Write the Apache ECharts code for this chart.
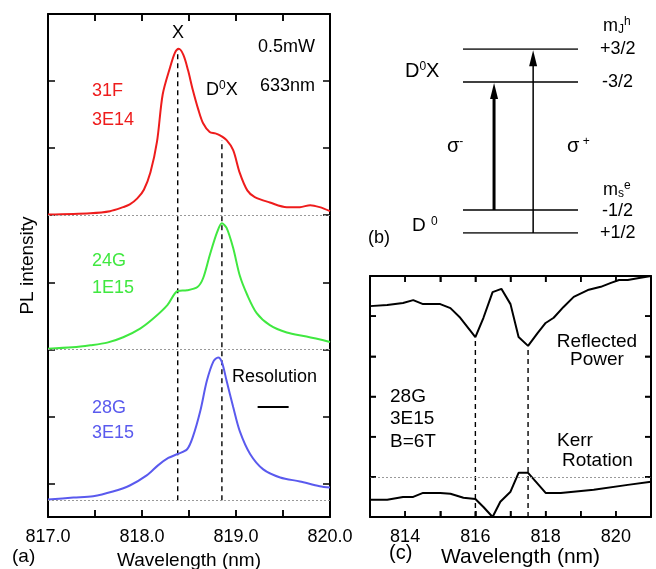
<!DOCTYPE html>
<html>
<head>
<meta charset="utf-8">
<script src="https://cdn.jsdelivr.net/npm/echarts@6/dist/echarts.min.js"></script>
<style>
  html, body { margin: 0; padding: 0; background: #fff; }
  #fig { width: 656px; height: 569px; }
</style>
</head>
<body>
<div id="fig"></div>
<script>
const FONT = '"Liberation Sans", Arial, Helvetica, sans-serif';

// (a) PL spectra: wavelength (nm) and intensity above each trace's baseline
const wl31F = [817.00, 817.45, 817.66, 817.80, 817.87, 817.95, 818.02, 818.09, 818.16, 818.22, 818.30, 818.35, 818.39, 818.44, 818.49, 818.54, 818.60, 818.65, 818.72, 818.78, 818.83, 818.90, 818.97, 819.04, 819.12, 819.20, 819.36, 819.54, 819.68, 819.79, 819.89, 820.00];
const pl31F = [0.01, 0.03, 0.06, 0.12, 0.16, 0.25, 0.38, 0.64, 1.10, 1.80, 2.21, 2.42, 2.48, 2.39, 2.16, 1.87, 1.57, 1.37, 1.24, 1.22, 1.19, 1.12, 0.97, 0.63, 0.37, 0.27, 0.19, 0.12, 0.12, 0.15, 0.12, 0.06];

const wl24G = [817.00, 817.26, 817.45, 817.63, 817.80, 817.98, 818.12, 818.27, 818.38, 818.48, 818.59, 818.65, 818.72, 818.80, 818.85, 818.90, 818.97, 819.04, 819.12, 819.22, 819.36, 819.54, 819.75, 820.00];
const pl24G = [0.01, 0.03, 0.06, 0.10, 0.18, 0.31, 0.46, 0.66, 0.87, 0.88, 0.93, 1.06, 1.40, 1.75, 1.88, 1.81, 1.51, 1.10, 0.81, 0.54, 0.36, 0.25, 0.19, 0.11];

const wl28G = [817.00, 817.27, 817.48, 817.69, 817.87, 818.05, 818.17, 818.28, 818.38, 818.48, 818.54, 818.62, 818.69, 818.76, 818.81, 818.85, 818.90, 818.97, 819.04, 819.15, 819.29, 819.47, 819.68, 819.89, 820.00];
const pl28G = [0.01, 0.04, 0.06, 0.13, 0.22, 0.37, 0.52, 0.63, 0.69, 0.76, 0.94, 1.33, 1.78, 2.07, 2.13, 2.06, 1.78, 1.39, 1.03, 0.69, 0.46, 0.34, 0.28, 0.21, 0.19];

const baselines = { red: 4, green: 2, blue: -0.25 };
const peakX = 818.38, peakD0X = 818.85;
const resolution = [819.23, 819.56];

// ticks and tick labels
const ticksA_x = [817.5, 818, 818.5, 819, 819.5];
const labelsA_x = [817, 818, 819, 820];
const ticksA_y = [0, 1, 2, 3, 4, 5, 6];
const ticksC_x = [814, 815, 816, 817, 818, 819, 820];
const labelsC_x = [814, 816, 818, 820];
const ticksC_y = [0, 1, 2, 3, 4];

// (c) reflected power and Kerr rotation at B = 6 T
const wlRefl = [813.0, 813.49, 813.94, 814.23, 814.51, 815.0, 815.29, 815.57, 816.0, 816.23, 816.49, 816.74, 817.0, 817.23, 817.5, 817.77, 818.0, 818.23, 818.51, 818.8, 819.2, 819.57, 819.86, 820.09, 820.34, 820.66, 821.0];
const refl = [4.25, 4.28, 4.33, 4.40, 4.30, 4.30, 4.20, 3.96, 3.48, 3.96, 4.60, 4.68, 4.30, 3.48, 3.26, 3.58, 3.83, 3.96, 4.23, 4.48, 4.65, 4.73, 4.83, 4.90, 4.90, 4.95, 5.0];
const wlKerr = [813.0, 813.49, 813.94, 814.23, 814.51, 815.0, 815.29, 815.66, 816.0, 816.23, 816.49, 816.71, 817.0, 817.23, 817.5, 817.77, 818.0, 818.43, 819.37, 820.34, 821.0];
const kerr = [-0.57, -0.57, -0.50, -0.50, -0.40, -0.40, -0.42, -0.52, -0.55, -0.75, -1.0, -0.62, -0.37, 0.10, 0.10, -0.17, -0.40, -0.40, -0.32, -0.20, -0.12];
const dipsC = [[816.0, 3.48], [817.5, 3.26]];

// (b) level scheme: relative energies, transitions
const levelE = [0, 1, 6.57, 8];
const transitions = [
  { name: 'sigma-', x: 0.27, from: 1, to: 6.57, width: 3 },
  { name: 'sigma+', x: 0.61, from: 0, to: 8, width: 1.5 }
];

const zip = (xs, ys, off) => xs.map((x, i) => [x, ys[i] + (off || 0)]);

const frame = { show: true, onZero: false, lineStyle: { color: '#000', width: 2 } };
const noSplit = { show: false };

function dotted(y) {
  return { silent: true, symbol: 'none', label: { show: false },
    lineStyle: { color: '#999', type: [2, 2], width: 1 }, data: [{ yAxis: y }] };
}
function dashed(name, xi, yi, x, y0, y1) {
  return { name, type: 'line', xAxisIndex: xi, yAxisIndex: yi, symbol: 'none', z: 1,
    data: [[x, y0], [x, y1]], lineStyle: { color: '#000', width: 1.4, type: [5, 4] } };
}
function pl(name, xs, ys, base, color) {
  return { name, type: 'line', xAxisIndex: 0, yAxisIndex: 0, symbol: 'none', smooth: 0.3,
    data: zip(xs, ys, base), lineStyle: { color, width: 2 }, markLine: dotted(base), z: 3 };
}
// inward ticks on both opposite frame edges, placed through the axis scale
function frameTicks(name, xi, yi, dir, vals, ref, len) {
  return { name, type: 'custom', xAxisIndex: xi, yAxisIndex: yi, silent: true, z: 5,
    data: vals.map(v => dir === 'x' ? [v, ref] : [ref, v]),
    renderItem: (params, api) => {
      const cs = params.coordSys;
      const p = api.coord([api.value(0), api.value(1)]);
      const segs = dir === 'x'
        ? [[p[0], cs.y, p[0], cs.y + len], [p[0], cs.y + cs.height, p[0], cs.y + cs.height - len]]
        : [[cs.x, p[1], cs.x + len, p[1]], [cs.x + cs.width, p[1], cs.x + cs.width - len, p[1]]];
      return { type: 'group', children: segs.map(s => ({ type: 'line',
        shape: { x1: s[0], y1: s[1], x2: s[2], y2: s[3] }, style: { stroke: '#000', lineWidth: 1.5 } })) };
    } };
}

function txt(x, y, text, o) {
  o = o || {};
  return { type: 'text', x, y, z: 100, style: {
    text, fill: o.color || '#000', font: (o.size || 18) + 'px ' + FONT,
    align: o.align || 'left', verticalAlign: 'middle', rich: o.rich } };
}
const sup = (size) => ({
  b: { fontSize: size || 18, fontFamily: FONT, color: '#000' },
  s: { fontSize: 12, fontFamily: FONT, color: '#000', padding: [0, 0, 9, 0] },
  d: { fontSize: 12, fontFamily: FONT, color: '#000', padding: [8, 0, 0, 0] }
});
const tick = (len, vals) => ({ show: true, inside: true, length: len, customValues: vals,
  lineStyle: { color: '#000', width: 1.5 } });
const bare = { show: false };
const label = (vals, fmt) => ({ show: true, customValues: vals, color: '#000', fontSize: 18,
  margin: 11, fontFamily: FONT, formatter: fmt });

const chart = echarts.init(document.getElementById('fig'), null, { renderer: 'canvas' });
chart.setOption({
  animation: false,
  backgroundColor: '#fff',
  textStyle: { fontFamily: FONT },
  grid: [
    { left: 48, top: 14, width: 282, height: 503, outerBoundsMode: 'none', containLabel: false },
    { left: 370, top: 276, width: 281, height: 241, outerBoundsMode: 'none', containLabel: false },
    { left: 463, top: 49, width: 115, height: 184, outerBoundsMode: 'none', containLabel: false }
  ],
  xAxis: [
    { type: 'value', gridIndex: 0, min: 817, max: 820, axisLine: frame, axisTick: tick(7, ticksA_x),
      axisLabel: label(labelsA_x, v => v.toFixed(1)), splitLine: noSplit,
      name: 'Wavelength (nm)', nameLocation: 'middle', nameGap: 32,
      nameTextStyle: { color: '#000', fontSize: 19, fontFamily: FONT } },
    { type: 'value', gridIndex: 0, position: 'top', min: 817, max: 820, axisLine: frame,
      axisTick: tick(7, ticksA_x), axisLabel: bare, splitLine: noSplit },
    { type: 'value', gridIndex: 1, min: 813, max: 821, axisLine: frame, axisTick: tick(6, ticksC_x),
      axisLabel: label(labelsC_x, v => String(v)), splitLine: noSplit,
      name: 'Wavelength (nm)', nameLocation: 'middle', nameGap: 22,
      nameTextStyle: { color: '#000', fontSize: 21, fontFamily: FONT, padding: [0, 0, 0, 20] } },
    { type: 'value', gridIndex: 1, position: 'top', min: 813, max: 821, axisLine: frame,
      axisTick: tick(6, ticksC_x), axisLabel: bare, splitLine: noSplit },
    { type: 'value', gridIndex: 2, min: 0, max: 1, show: false }
  ],
  yAxis: [
    { type: 'value', gridIndex: 0, min: -0.5, max: 7, axisLine: frame, axisTick: tick(7, ticksA_y),
      axisLabel: bare, splitLine: noSplit,
      name: 'PL intensity', nameLocation: 'middle', nameGap: 11,
      nameTextStyle: { color: '#000', fontSize: 19, fontFamily: FONT } },
    { type: 'value', gridIndex: 0, position: 'right', min: -0.5, max: 7, axisLine: frame, axisTick: tick(7, ticksA_y),
      axisLabel: bare, splitLine: noSplit },
    { type: 'value', gridIndex: 1, min: -1, max: 5, axisLine: frame, axisTick: tick(6, ticksC_y),
      axisLabel: bare, splitLine: noSplit },
    { type: 'value', gridIndex: 1, position: 'right', min: -1, max: 5, axisLine: frame,
      axisTick: tick(6, ticksC_y), axisLabel: bare, splitLine: noSplit },
    { type: 'value', gridIndex: 2, min: 0, max: 8, show: false }
  ],
  series: [
    pl('31F 3E14', wl31F, pl31F, baselines.red, '#ee1c1c'),
    pl('24G 1E15', wl24G, pl24G, baselines.green, '#40e840'),
    pl('28G 3E15', wl28G, pl28G, baselines.blue, '#5a5aee'),
    dashed('X', 0, 0, peakX, baselines.blue, baselines.red + Math.max(...pl31F)),
    dashed('D0X', 0, 0, peakD0X, baselines.blue, baselines.red + 1.12),
    { name: 'Resolution', type: 'line', xAxisIndex: 0, yAxisIndex: 0, symbol: 'none',
      data: resolution.map(x => [x, 1.14]), lineStyle: { color: '#000', width: 2 } },
    frameTicks('ticks a x', 0, 0, 'x', ticksA_x, 0, 7),

    { name: 'Reflected Power', type: 'line', xAxisIndex: 2, yAxisIndex: 2, symbol: 'none',
      data: zip(wlRefl, refl), lineStyle: { color: '#000', width: 2 }, z: 3 },
    { name: 'Kerr Rotation', type: 'line', xAxisIndex: 2, yAxisIndex: 2, symbol: 'none',
      data: zip(wlKerr, kerr), lineStyle: { color: '#000', width: 2 }, markLine: dotted(0), z: 3 },
    ...dipsC.map((d, i) => dashed('dip' + i, 2, 2, d[0], -1, d[1])),
    frameTicks('ticks c x', 2, 2, 'x', ticksC_x, 0, 6),
    frameTicks('ticks c y', 2, 2, 'y', ticksC_y, 817, 6),

    ...levelE.map((e, i) => ({ name: 'level' + i, type: 'line', xAxisIndex: 4, yAxisIndex: 4, symbol: 'none',
      data: [[0, e], [1, e]], lineStyle: { color: '#000', width: 1.5 } })),
    ...transitions.map(t => ({ name: t.name, type: 'line', xAxisIndex: 4, yAxisIndex: 4,
      symbol: 'none', showSymbol: true, z: 4,
      itemStyle: { color: '#000' }, lineStyle: { color: '#000', width: t.width },
      data: [[t.x, t.from], { value: [t.x, t.to - 0.4], symbol: 'triangle', symbolSize: [8, 16], symbolOffset: [0, 0] }] }))
  ],
  graphic: [
    // (a)
    txt(178, 33, 'X', { align: 'center' }),
    txt(315, 47, '0.5mW', { align: 'right' }),
    txt(315, 86, '633nm', { align: 'right' }),
    txt(206, 90, '{b|D}{s|0}{b|X}', { rich: sup() }),
    txt(92, 91, '31F', { color: '#ee1c1c' }),
    txt(92, 120, '3E14', { color: '#ee1c1c' }),
    txt(92, 261, '24G', { color: '#40e840' }),
    txt(92, 288, '1E15', { color: '#40e840' }),
    txt(92, 408, '28G', { color: '#5a5aee' }),
    txt(92, 433, '3E15', { color: '#5a5aee' }),
    txt(232, 377, 'Resolution'),
    txt(12, 557, '(a)', { size: 19 }),
    // (b)
    txt(405, 71, '{b|D}{s|0}{b|X}', { rich: sup(20) }),
    txt(412, 226, '{b|D }{s|0}', { rich: sup(19) }),
    txt(368, 238, '(b)', { size: 18 }),
    txt(447, 146, '{b|\u03c3}{s|-}', { rich: sup(20) }),
    txt(567, 146, '{b|\u03c3}{s| +}', { rich: sup(20) }),
    txt(603, 26, '{b|m}{d|J}{s|h}', { rich: sup(18) }),
    txt(600, 49, '+3/2'),
    txt(602, 82, '-3/2'),
    txt(603, 190, '{b|m}{d|s}{s|e}', { rich: sup(18) }),
    txt(602, 211, '-1/2'),
    txt(600, 233, '+1/2'),
    // (c)
    txt(597, 342, 'Reflected', { align: 'center', size: 19 }),
    txt(597, 360, 'Power', { align: 'center', size: 19 }),
    txt(390, 397, '28G', { size: 19 }),
    txt(390, 419, '3E15', { size: 19 }),
    txt(390, 442, 'B=6T', { size: 19 }),
    txt(557, 441, 'Kerr', { size: 19 }),
    txt(562, 461, 'Rotation', { size: 19 }),
    txt(389, 553, '(c)', { size: 20 })
  ]
});
</script>
</body>
</html>
